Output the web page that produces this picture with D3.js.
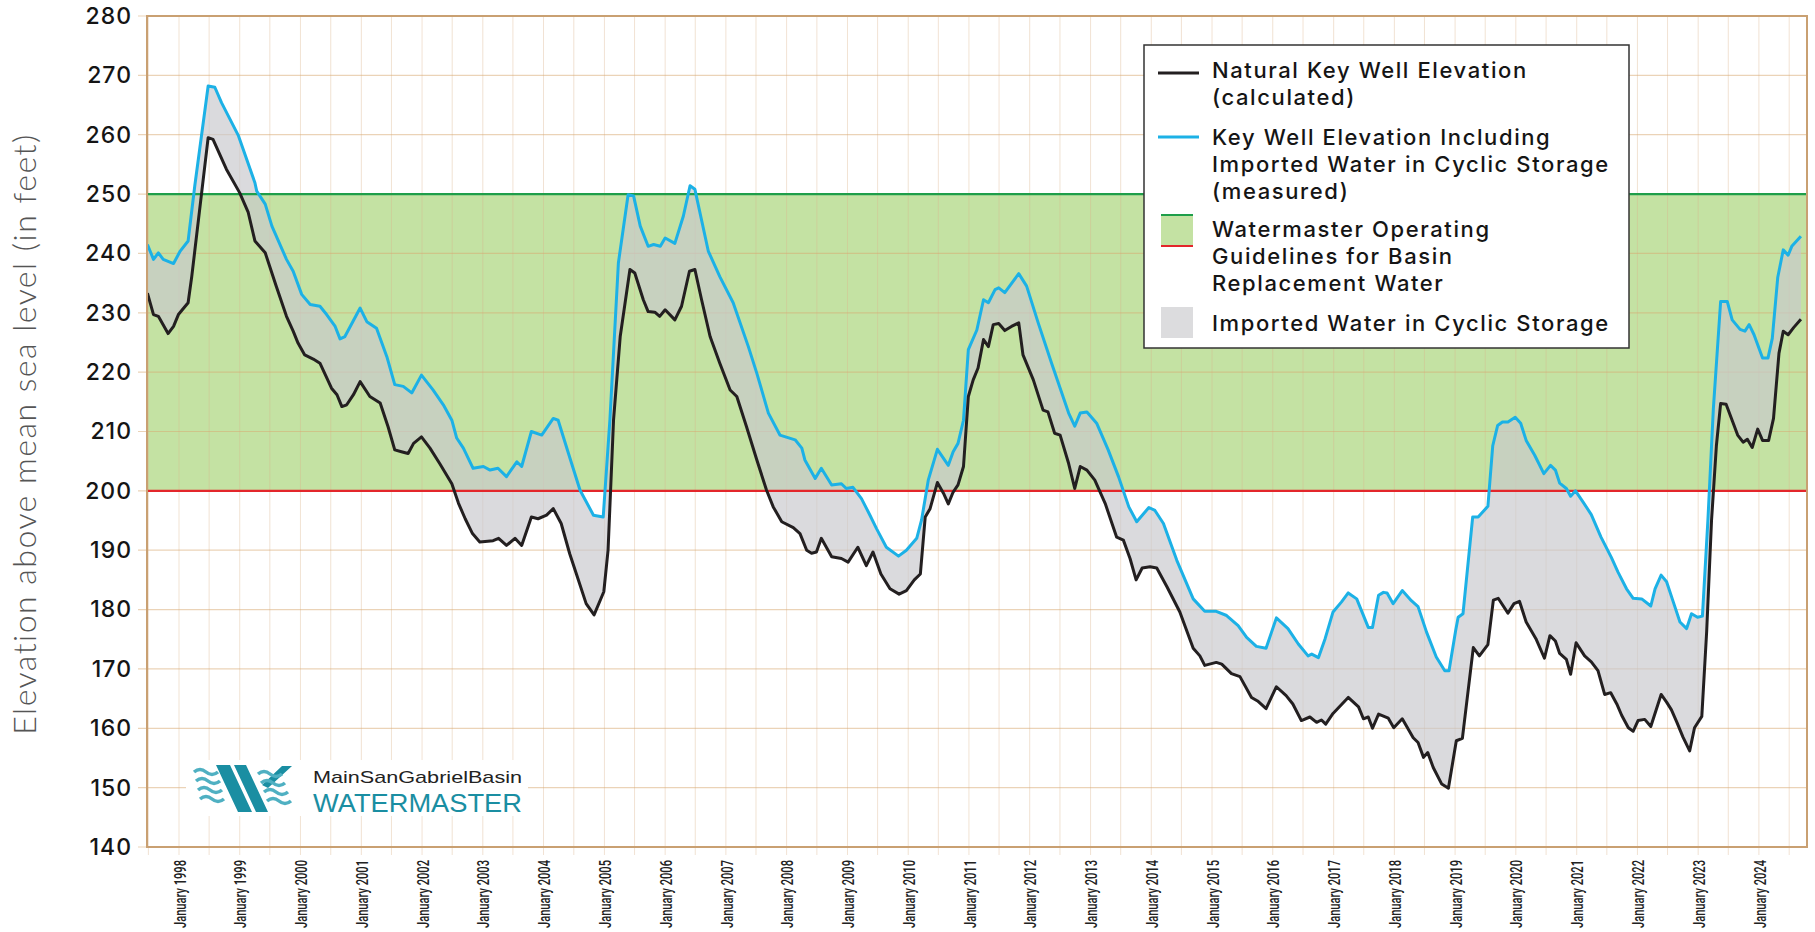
<!DOCTYPE html>
<html>
<head>
<meta charset="utf-8">
<script src="https://cdn.jsdelivr.net/npm/d3@7"></script>
<style>
  body { margin: 0; background: #fff; }
  svg { display: block; }
  .ytick text { font-family: Inter, "Noto Sans", sans-serif; font-size: 23px; font-weight: 500; fill: #151515; letter-spacing: 1px; }
  .xtick text { font-family: Roboto, "DejaVu Sans Condensed", sans-serif; font-size: 17px; font-weight: 500; fill: #222; }
  .legend text { font-family: Inter, "Noto Sans", sans-serif; font-size: 22px; font-weight: 500; fill: #151515; letter-spacing: 1.6px; }
</style>
</head>
<body>
<div id="chart"></div>
<script>
// ---- data (decimal year, feet above msl) ----
var naturalYears = [1997.48, 1997.58, 1997.66, 1997.82, 1997.91, 1997.99, 1998.15, 1998.21, 1998.48, 1998.56,
  1998.78, 1999.00, 1999.14, 1999.25, 1999.42, 1999.60, 1999.77, 1999.88, 1999.96, 2000.07,
  2000.21, 2000.32, 2000.51, 2000.60, 2000.68, 2000.76, 2000.87, 2000.98, 2001.14, 2001.31,
  2001.44, 2001.55, 2001.66, 2001.77, 2001.86, 2001.99, 2002.13, 2002.29, 2002.49, 2002.60,
  2002.71, 2002.83, 2002.95, 2003.17, 2003.26, 2003.39, 2003.53, 2003.64, 2003.80, 2003.91,
  2004.05, 2004.16, 2004.29, 2004.43, 2004.54, 2004.70, 2004.83, 2004.99, 2005.06, 2005.15,
  2005.26, 2005.42, 2005.50, 2005.64, 2005.72, 2005.83, 2005.91, 2006.00, 2006.16, 2006.27,
  2006.40, 2006.49, 2006.60, 2006.74, 2006.90, 2007.07, 2007.18, 2007.34, 2007.51, 2007.67,
  2007.78, 2007.92, 2008.11, 2008.22, 2008.33, 2008.41, 2008.49, 2008.57, 2008.74, 2008.90,
  2009.01, 2009.17, 2009.31, 2009.42, 2009.55, 2009.70, 2009.85, 2009.97, 2010.10, 2010.20,
  2010.28, 2010.36, 2010.48, 2010.58, 2010.66, 2010.74, 2010.82, 2010.91, 2010.99, 2011.07,
  2011.15, 2011.24, 2011.32, 2011.40, 2011.49, 2011.59, 2011.70, 2011.82, 2011.89, 2012.06,
  2012.22, 2012.30, 2012.41, 2012.50, 2012.64, 2012.74, 2012.83, 2012.94, 2013.07, 2013.24,
  2013.43, 2013.54, 2013.65, 2013.75, 2013.85, 2013.98, 2014.09, 2014.26, 2014.47, 2014.69,
  2014.80, 2014.88, 2015.07, 2015.16, 2015.32, 2015.46, 2015.65, 2015.75, 2015.89, 2016.06,
  2016.22, 2016.33, 2016.47, 2016.61, 2016.72, 2016.80, 2016.87, 2016.99, 2017.24, 2017.41,
  2017.49, 2017.57, 2017.64, 2017.74, 2017.90, 2017.99, 2018.13, 2018.31, 2018.39, 2018.48,
  2018.55, 2018.64, 2018.78, 2018.89, 2019.02, 2019.12, 2019.30, 2019.40, 2019.54, 2019.63,
  2019.71, 2019.87, 2019.97, 2020.06, 2020.17, 2020.33, 2020.47, 2020.56, 2020.65, 2020.72,
  2020.83, 2020.90, 2020.99, 2021.13, 2021.24, 2021.35, 2021.46, 2021.56, 2021.66, 2021.74,
  2021.85, 2021.93, 2022.01, 2022.12, 2022.22, 2022.39, 2022.48, 2022.56, 2022.65, 2022.75,
  2022.86, 2022.94, 2023.06, 2023.14, 2023.22, 2023.30, 2023.37, 2023.46, 2023.57, 2023.65,
  2023.74, 2023.81, 2023.89, 2023.98, 2024.06, 2024.16, 2024.24, 2024.33, 2024.40, 2024.48,
  2024.57, 2024.69];
var naturalFeet = [233.3, 229.7, 229.4, 226.5, 227.7, 229.7, 231.7, 236.1, 259.5, 259.2,
  254.2, 250.2, 246.9, 242.1, 240.1, 234.5, 229.4, 226.9, 224.9, 222.9,
  222.2, 221.5, 217.3, 216.2, 214.2, 214.5, 216.2, 218.4, 215.9, 214.8,
  210.8, 206.9, 206.6, 206.3, 208.0, 209.1, 207.2, 204.6, 201.2, 197.9,
  195.3, 192.8, 191.4, 191.6, 192.0, 190.8, 192.0, 190.8, 195.6, 195.3,
  195.9, 197.0, 194.5, 189.4, 186.0, 181.0, 179.1, 183.0, 190.0, 211.9,
  226.0, 237.3, 236.7, 232.2, 230.2, 230.1, 229.4, 230.5, 228.8, 231.1,
  237.0, 237.3, 232.2, 226.0, 221.5, 217.0, 215.9, 210.8, 205.2, 200.1,
  197.3, 194.8, 193.8, 192.8, 190.0, 189.5, 189.7, 192.0, 188.9, 188.6,
  188.0, 190.5, 187.4, 189.7, 186.0, 183.5, 182.6, 183.2, 185.0, 186.0,
  195.6, 197.0, 201.4, 199.6, 197.8, 199.8, 201.0, 204.1, 215.9, 218.7,
  220.7, 225.5, 224.3, 228.0, 228.2, 227.0, 227.7, 228.3, 222.9, 218.7,
  213.6, 213.3, 209.7, 209.4, 204.6, 200.4, 204.1, 203.5, 201.8, 197.9,
  192.2, 191.7, 188.6, 185.0, 187.0, 187.2, 187.0, 183.8, 179.6, 173.5,
  172.2, 170.6, 171.1, 170.8, 169.2, 168.7, 165.2, 164.6, 163.3, 167.0,
  165.5, 164.1, 161.3, 161.9, 161.0, 161.4, 160.7, 162.5, 165.2, 163.6,
  161.6, 161.9, 160.0, 162.4, 161.7, 160.1, 161.6, 158.4, 157.6, 155.1,
  155.9, 153.4, 150.6, 149.9, 157.9, 158.3, 173.6, 172.2, 174.1, 181.6,
  181.9, 179.4, 181.0, 181.4, 177.9, 175.1, 171.8, 175.6, 174.7, 172.6,
  171.6, 169.1, 174.4, 172.2, 171.2, 169.7, 165.7, 166.0, 164.1, 162.2,
  160.1, 159.5, 161.3, 161.5, 160.3, 165.7, 164.4, 163.1, 161.0, 158.5,
  156.2, 160.1, 162.0, 176.3, 195.0, 207.6, 214.7, 214.6, 211.6, 209.4,
  208.2, 208.7, 207.3, 210.4, 208.5, 208.5, 212.2, 223.2, 226.9, 226.3,
  227.5, 228.9];

var measuredYears = [1997.48, 1997.58, 1997.66, 1997.74, 1997.91, 1998.02, 1998.15, 1998.26, 1998.48, 1998.59,
  1998.70, 1998.98, 1999.25, 1999.28, 1999.42, 1999.53, 1999.77, 1999.88, 2000.02, 2000.16,
  2000.32, 2000.43, 2000.57, 2000.65, 2000.73, 2000.98, 2001.09, 2001.25, 2001.42, 2001.55,
  2001.69, 2001.83, 2001.99, 2002.18, 2002.35, 2002.49, 2002.57, 2002.68, 2002.84, 2003.01,
  2003.12, 2003.25, 2003.39, 2003.56, 2003.64, 2003.80, 2003.97, 2004.16, 2004.24, 2004.41,
  2004.60, 2004.82, 2004.98, 2005.09, 2005.23, 2005.39, 2005.48, 2005.59, 2005.72, 2005.81,
  2005.92, 2006.00, 2006.16, 2006.30, 2006.41, 2006.49, 2006.71, 2006.90, 2007.12, 2007.37,
  2007.51, 2007.70, 2007.89, 2008.14, 2008.25, 2008.30, 2008.47, 2008.57, 2008.74, 2008.90,
  2008.98, 2009.09, 2009.23, 2009.37, 2009.48, 2009.64, 2009.84, 2009.97, 2010.14, 2010.22,
  2010.33, 2010.48, 2010.66, 2010.74, 2010.82, 2010.91, 2010.99, 2011.13, 2011.24, 2011.32,
  2011.43, 2011.49, 2011.59, 2011.82, 2011.95, 2012.14, 2012.36, 2012.64, 2012.74, 2012.83,
  2012.94, 2013.10, 2013.29, 2013.46, 2013.63, 2013.76, 2013.96, 2014.06, 2014.20, 2014.42,
  2014.69, 2014.88, 2015.07, 2015.24, 2015.43, 2015.57, 2015.73, 2015.89, 2016.06, 2016.25,
  2016.42, 2016.58, 2016.64, 2016.75, 2016.86, 2016.99, 2017.13, 2017.24, 2017.38, 2017.57,
  2017.64, 2017.74, 2017.82, 2017.88, 2017.98, 2018.13, 2018.28, 2018.39, 2018.53, 2018.69,
  2018.83, 2018.90, 2019.01, 2019.05, 2019.13, 2019.29, 2019.38, 2019.54, 2019.62, 2019.70,
  2019.78, 2019.87, 2019.99, 2020.08, 2020.17, 2020.31, 2020.46, 2020.57, 2020.65, 2020.72,
  2020.83, 2020.90, 2020.98, 2021.10, 2021.24, 2021.40, 2021.57, 2021.68, 2021.82, 2021.93,
  2022.07, 2022.22, 2022.29, 2022.39, 2022.48, 2022.59, 2022.70, 2022.81, 2022.89, 2022.99,
  2023.07, 2023.16, 2023.25, 2023.37, 2023.48, 2023.56, 2023.69, 2023.77, 2023.84, 2023.92,
  2024.06, 2024.15, 2024.22, 2024.31, 2024.40, 2024.48, 2024.54, 2024.69];
var measuredFeet = [241.5, 239.0, 240.1, 239.0, 238.3, 240.4, 242.1, 251.4, 268.2, 268.0,
  265.4, 259.8, 251.9, 250.5, 248.3, 244.6, 239.0, 237.0, 233.1, 231.4,
  231.1, 229.7, 227.7, 225.6, 226.0, 230.8, 228.5, 227.4, 222.6, 217.9,
  217.6, 216.5, 219.5, 217.0, 214.5, 211.9, 208.9, 207.2, 203.8, 204.1,
  203.5, 203.8, 202.4, 204.9, 204.1, 210.0, 209.4, 212.2, 211.9, 206.3,
  200.1, 195.9, 195.6, 211.9, 238.4, 249.9, 249.7, 244.6, 241.2, 241.5,
  241.2, 242.6, 241.7, 246.3, 251.4, 250.8, 240.4, 236.1, 231.7, 224.3,
  219.8, 213.1, 209.4, 208.6, 207.2, 205.2, 202.1, 203.8, 201.0, 201.2,
  200.4, 200.6, 198.7, 195.9, 193.6, 190.5, 189.0, 190.0, 192.0, 195.1,
  201.8, 207.0, 204.3, 206.6, 208.0, 211.9, 223.8, 227.1, 232.2, 231.7,
  233.9, 234.2, 233.4, 236.6, 234.5, 228.3, 221.5, 213.1, 210.9, 213.1,
  213.3, 211.4, 206.9, 202.4, 197.3, 194.8, 197.2, 196.7, 194.5, 188.3,
  181.8, 179.7, 179.7, 179.0, 177.3, 175.3, 173.8, 173.5, 178.6, 176.8,
  174.2, 172.2, 172.5, 171.9, 175.1, 179.6, 181.3, 182.8, 181.8, 177.0,
  177.0, 182.4, 182.9, 182.8, 181.0, 183.2, 181.5, 180.5, 176.2, 172.0,
  169.7, 169.7, 176.5, 178.7, 179.3, 195.6, 195.6, 197.4, 207.6, 211.0,
  211.6, 211.6, 212.4, 211.4, 208.5, 206.0, 202.9, 204.3, 203.5, 201.3,
  200.4, 199.1, 200.0, 198.2, 196.0, 192.2, 188.8, 186.3, 183.5, 181.9,
  181.8, 180.6, 183.5, 185.8, 184.7, 181.3, 177.9, 176.8, 179.3, 178.7,
  178.9, 195.0, 213.8, 231.9, 231.9, 228.8, 227.2, 226.9, 228.0, 226.3,
  222.4, 222.4, 225.7, 236.0, 240.6, 239.7, 241.2, 242.9];

var guideBand = [200, 250];
var yTicks = [140, 150, 160, 170, 180, 190, 200, 210, 220, 230, 240, 250, 260, 270, 280];
var xStart = 1997.473, xEnd = 2024.79;
var legendItems = [
  ['Natural Key Well Elevation', '(calculated)'],
  ['Key Well Elevation Including', 'Imported Water in Cyclic Storage', '(measured)'],
  ['Watermaster Operating', 'Guidelines for Basin', 'Replacement Water'],
  ['Imported Water in Cyclic Storage']
];

// ---- layout ----
var W = 1815, H = 932;
var margin = {top: 16, right: 8, bottom: 85, left: 147};
var innerW = W - margin.left - margin.right,
  innerH = H - margin.top - margin.bottom;

function yearToDate(y) {
  var yr = Math.floor(y);
  var a = Date.UTC(yr, 0, 1), b = Date.UTC(yr + 1, 0, 1);
  return new Date(a + (y - yr) * (b - a));
}

var x = d3.scaleUtc()
  .domain([yearToDate(xStart), yearToDate(xEnd)])
  .range([margin.left, margin.left + innerW]);

var y = d3.scaleLinear()
  .domain([140, 280])
  .range([margin.top + innerH, margin.top]);

var natural = naturalYears.map(function (d, i) { return {date: yearToDate(d), v: naturalFeet[i]}; });
var measured = measuredYears.map(function (d, i) { return {date: yearToDate(d), v: measuredFeet[i]}; });

var svg = d3.select('#chart').append('svg')
  .attr('width', W)
  .attr('height', H);

// guideline band
svg.append('rect')
  .attr('x', margin.left)
  .attr('y', y(guideBand[1]))
  .attr('width', innerW)
  .attr('height', y(guideBand[0]) - y(guideBand[1]))
  .attr('fill', '#c4e2a3');

// grid
var halfYears = d3.utcMonth.every(6).range(x.domain()[0], x.domain()[1]);

svg.append('g').selectAll('line')
    .data(halfYears)
  .enter().append('line')
    .attr('x1', function (d) { return x(d); })
    .attr('x2', function (d) { return x(d); })
    .attr('y1', margin.top)
    .attr('y2', margin.top + innerH + 8)
    .attr('stroke', '#d9b48c')
    .attr('stroke-opacity', 0.38)
    .attr('stroke-width', 1);

svg.append('g').selectAll('line')
    .data(yTicks)
  .enter().append('line')
    .attr('x1', margin.left - 9)
    .attr('x2', margin.left + innerW)
    .attr('y1', function (d) { return y(d); })
    .attr('y2', function (d) { return y(d); })
    .attr('stroke', '#d8a870')
    .attr('stroke-opacity', 0.5)
    .attr('stroke-width', 1.2);

// cyclic storage fill: measured forward, natural back
var poly = measured.concat(natural.slice().reverse());
var polyLine = d3.line()
  .x(function (d) { return x(d.date); })
  .y(function (d) { return y(d.v); });

svg.append('path')
  .attr('d', polyLine(poly) + 'Z')
  .attr('fill', '#c9c9cd')
  .attr('fill-opacity', 0.68);

// guideline edges
svg.append('line')
  .attr('x1', margin.left).attr('x2', margin.left + innerW)
  .attr('y1', y(guideBand[1])).attr('y2', y(guideBand[1]))
  .attr('stroke', '#1e9e4a').attr('stroke-width', 2.2);
svg.append('line')
  .attr('x1', margin.left).attr('x2', margin.left + innerW)
  .attr('y1', y(guideBand[0])).attr('y2', y(guideBand[0]))
  .attr('stroke', '#e3262b').attr('stroke-width', 2.2);

// series lines
svg.append('path')
  .datum(measured)
  .attr('d', polyLine)
  .attr('fill', 'none')
  .attr('stroke', '#1cb1e6')
  .attr('stroke-width', 3)
  .attr('stroke-linejoin', 'round');

svg.append('path')
  .datum(natural)
  .attr('d', polyLine)
  .attr('fill', 'none')
  .attr('stroke', '#231f20')
  .attr('stroke-width', 3)
  .attr('stroke-linejoin', 'round');

// frame
svg.append('rect')
  .attr('x', margin.left)
  .attr('y', margin.top)
  .attr('width', innerW)
  .attr('height', innerH)
  .attr('fill', 'none')
  .attr('stroke', '#c9a072')
  .attr('stroke-width', 2);

// axes
var yAxis = d3.axisLeft(y)
  .tickValues(yTicks)
  .tickSize(0)
  .tickPadding(15);

svg.append('g')
    .attr('class', 'ytick')
    .attr('transform', 'translate(' + margin.left + ',0)')
    .call(yAxis)
    .call(function (g) { g.select('.domain').remove(); });

var xAxis = d3.axisBottom(x)
  .ticks(d3.utcMonth.every(6))
  .tickSize(0)
  .tickFormat(function (d) {
    return d.getUTCMonth() === 0 ? 'January ' + d.getUTCFullYear() : '';
  });

svg.append('g')
    .attr('class', 'xtick')
    .attr('transform', 'translate(0,' + (margin.top + innerH) + ')')
    .call(xAxis)
    .call(function (g) { g.select('.domain').remove(); })
  .selectAll('text')
    .filter(function () { return this.textContent !== ''; })
    .attr('transform', 'rotate(-90)')
    .attr('text-anchor', 'end')
    .attr('x', -13)
    .attr('y', 0)
    .attr('dy', '0.36em')
    .attr('textLength', 68)
    .attr('lengthAdjust', 'spacingAndGlyphs');

// y title
svg.append('text')
  .attr('transform', 'translate(36,434) rotate(-90)')
  .attr('text-anchor', 'middle')
  .attr('font-family', 'Lato, "Open Sans", sans-serif')
  .attr('font-weight', 300)
  .attr('font-size', 32)
  .attr('letter-spacing', 1.5)
  .attr('fill', '#555')
  .text('Elevation above mean sea level (in feet)');

// legend
var lg = svg.append('g').attr('class', 'legend');
lg.append('rect')
  .attr('x', 1144).attr('y', 45)
  .attr('width', 485).attr('height', 303)
  .attr('fill', '#fff')
  .attr('stroke', '#333')
  .attr('stroke-width', 1.5);

var lineH = 27;
var blockTop = [78, 145, 237, 331];
legendItems.forEach(function (lines, i) {
  var t = lg.append('text').attr('x', 1212).attr('y', blockTop[i]);
  lines.forEach(function (s, j) {
    t.append('tspan').attr('x', 1212).attr('y', blockTop[i] + j * lineH).text(s);
  });
});
lg.append('line').attr('x1', 1158).attr('x2', 1199).attr('y1', 73).attr('y2', 73)
  .attr('stroke', '#231f20').attr('stroke-width', 3);
lg.append('line').attr('x1', 1158).attr('x2', 1199).attr('y1', 137).attr('y2', 137)
  .attr('stroke', '#1cb1e6').attr('stroke-width', 3);
lg.append('rect').attr('x', 1161).attr('y', 215).attr('width', 32).attr('height', 31)
  .attr('fill', '#c4e2a3');
lg.append('line').attr('x1', 1161).attr('x2', 1193).attr('y1', 215).attr('y2', 215)
  .attr('stroke', '#1e9e4a').attr('stroke-width', 2);
lg.append('line').attr('x1', 1161).attr('x2', 1193).attr('y1', 246).attr('y2', 246)
  .attr('stroke', '#e3262b').attr('stroke-width', 2);
lg.append('rect').attr('x', 1161).attr('y', 307).attr('width', 32).attr('height', 31)
  .attr('fill', '#dcdcde');

// logo
var logo = svg.append('g');
logo.append('rect').attr('x', 186).attr('y', 760).attr('width', 342).attr('height', 56).attr('fill', '#fff');
logo.append('path')
  .attr('d', 'M216,765 L230,765 L252,812 L238,812 Z M234,765 L246,765 L268,812 L256,812 Z M268,788 L292,766 L282,766 L262,785 Z')
  .attr('fill', '#1a8ea2');
[772, 781, 790, 799].forEach(function (wy, i) {
  logo.append('path')
    .attr('d', 'M' + (194 + i * 2) + ',' + wy + ' q6,-5 12,0 t12,0')
    .attr('fill', 'none').attr('stroke', '#4fb0c2').attr('stroke-width', 3.5);
  logo.append('path')
    .attr('d', 'M' + (258 + i * 3) + ',' + (wy + 2) + ' q6,-5 12,0 t12,0')
    .attr('fill', 'none').attr('stroke', '#4fb0c2').attr('stroke-width', 3.5);
});
logo.append('text').attr('x', 313).attr('y', 783)
  .attr('font-family', '"Liberation Sans", Arial, sans-serif').attr('font-size', 17)
  .attr('textLength', 209).attr('lengthAdjust', 'spacingAndGlyphs')
  .attr('fill', '#222').text('MainSanGabrielBasin');
logo.append('text').attr('x', 313).attr('y', 812)
  .attr('font-family', '"Liberation Sans", Arial, sans-serif').attr('font-size', 26)
  .attr('textLength', 209).attr('lengthAdjust', 'spacingAndGlyphs')
  .attr('fill', '#1a8ea2').text('WATERMASTER');
</script>
</body>
</html>
